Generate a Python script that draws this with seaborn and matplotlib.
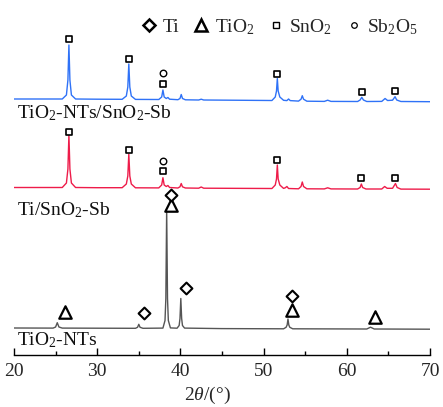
import matplotlib
matplotlib.use("Agg")
import matplotlib.pyplot as plt
from matplotlib.lines import Line2D
from matplotlib.ticker import MultipleLocator
import pandas as pd
import seaborn as sns

# ---- diffraction patterns (2θ in degrees, intensity in a.u. above each baseline) ----
ntsb_2theta = [20.0, 23.0, 25.8, 26.3, 26.48, 26.6, 26.72, 26.9, 27.4, 30.0,
               33.0, 33.5, 33.68, 33.8, 33.92, 34.1, 34.6, 37.4, 37.75, 37.9,
               38.05, 38.3, 38.5, 38.7, 39.7, 39.95, 40.1, 40.25, 40.6, 42.2,
               42.5, 42.8, 51.0, 51.4, 51.55, 51.65, 51.75, 51.95, 52.4, 52.8,
               53.0, 53.2, 54.2, 54.5, 54.65, 54.8, 55.2, 57.3, 57.7, 58.1,
               61.3, 61.6, 61.8, 62.0, 62.4, 64.2, 64.6, 64.9, 65.5, 65.8,
               66.0, 66.5, 70.0]
ntsb_counts = [1.0, 1.0, 1.0, 5, 20, 55, 20, 5, 1.0, 0.8,
               0.7, 4, 13, 36, 13, 4, 0.6, 0.5, 3, 10,
               3, 1.5, 2.5, 0.8, 0.3, 1.5, 5.5, 1.5, 0.2, 0.0,
               0.8, 0.0, -0.5, 3, 9, 21.5, 9, 3, -0.3, -0.6,
               1.0, -0.6, -1.1, 0.8, 4.3, 0.8, -1.2, -1.4, -0.2, -1.4,
               -1.5, 0.0, 2.7, 0.0, -1.5, -1.4, 1.5, -0.5, -0.2, 3.3,
               0.0, -1.5, -1.7]

tisb_2theta = [20.0, 25.8, 26.3, 26.48, 26.6, 26.72, 26.9, 27.4, 30.0, 33.0,
               33.5, 33.68, 33.8, 33.92, 34.1, 34.6, 37.4, 37.75, 37.9, 38.05,
               38.3, 38.5, 38.7, 39.7, 39.95, 40.1, 40.25, 40.6, 42.2, 42.5,
               42.8, 51.0, 51.4, 51.55, 51.65, 51.75, 51.95, 52.4, 52.6, 52.8,
               53.0, 54.2, 54.5, 54.65, 54.8, 55.2, 57.3, 57.7, 58.1, 61.3,
               61.6, 61.75, 61.9, 62.3, 64.2, 64.55, 64.85, 65.5, 65.85, 66.05,
               66.5, 70.0]
tisb_counts = [0.5, 0.5, 5, 19, 53, 19, 5, 0.5, 0.3, 0.3,
               4, 12, 34, 12, 4, 0.2, 0.1, 3, 10.3, 3,
               1.5, 2.5, 0.5, 0.0, 1.2, 4.5, 1.2, 0.0, -0.2, 1.0,
               -0.2, -0.5, 3, 9, 23, 9, 3, -0.4, 0.2, 1.5,
               -0.5, -0.8, 1.5, 6, 1.5, -0.8, -0.9, 0.2, -0.9, -1.0,
               0.5, 4, 0.5, -1.0, -1.0, 1.5, -0.3, -0.3, 4.5, 0.5,
               -1.1, -1.2]

nts_2theta = [20.0, 24.7, 25.0, 25.2, 25.4, 25.8, 30.0, 34.6, 34.85, 35.0,
              35.15, 35.5, 37.9, 38.15, 38.25, 38.35, 38.45, 38.55, 38.8, 39.6,
              39.85, 39.95, 40.05, 40.15, 40.25, 40.5, 45.0, 52.4, 52.7, 52.83,
              52.93, 53.03, 53.15, 53.5, 62.4, 62.85, 63.3, 70.0]
nts_counts = [0.5, 0.4, 1.5, 5.8, 1.5, 0.4, 0.3, 0.2, 1.2, 4.2,
              1.2, 0.2, 0.4, 8, 30, 119.5, 30, 8, 0.6, 0.3,
              3, 10, 30, 10, 3, 0.4, -0.1, -0.3, 1.2, 3.5,
              9.5, 3.5, 1.2, -0.3, -0.5, 1.3, -0.5, -0.7]

# ---- phase assignments (2θ, label height above baseline) ----
ntsb_sno2_x = [26.6, 33.8, 37.9, 51.65, 61.8, 65.85]
ntsb_sno2_y = [61, 41, 16, 25.7, 8.3, 9.3]
ntsb_sb2o5_x = [37.9]
ntsb_sb2o5_y = [27.3]

tisb_sno2_x = [26.6, 33.8, 37.9, 51.6, 61.75, 65.85]
tisb_sno2_y = [56.3, 38, 17, 28, 9.7, 10.3]
tisb_sb2o5_x = [37.9]
tisb_sb2o5_y = [27]

nts_tio2_x = [26.1, 38.9, 53.45, 63.4]
nts_tio2_y = [16.8, 123.5, 18.5, 11.8]
nts_ti_x = [35.6, 38.9, 40.65, 53.45]
nts_ti_y = [15.2, 133.5, 40.5, 32.5]

sample_names = ["TiO$_2$-NTs/SnO$_2$-Sb", "Ti/SnO$_2$-Sb", "TiO$_2$-NTs"]
phase_names = ["Ti", "TiO$_2$", "SnO$_2$", "Sb$_2$O$_5$"]
x_ticks = [20, 30, 40, 50, 60, 70]

# ---- styling ----
sns.set_theme(style="white")
plt.rcParams["font.family"] = ["Liberation Serif", "DejaVu Serif"]
plt.rcParams["mathtext.fontset"] = "custom"
plt.rcParams["mathtext.rm"] = "Liberation Serif"
plt.rcParams["mathtext.it"] = "Liberation Serif:italic"
plt.rcParams["mathtext.bf"] = "Liberation Serif:bold"

FS = 14
offsets = [255, 167, 26.5]
colors = ["#2f72f7", "#ee1c4a", "#555555"]
phase_style = {
    "Ti": dict(marker="D", s=36, lw=1.5),
    "TiO2": dict(marker="^", s=80, lw=1.6),
    "SnO2": dict(marker="s", s=22, lw=1.2),
    "Sb2O5": dict(marker="o", s=22, lw=1.0),
}

fig = plt.figure(figsize=(4.43, 4.07), dpi=100)
ax = fig.add_axes([14 / 443, 52 / 407, 416 / 443, 355 / 407])

patterns = [(ntsb_2theta, ntsb_counts), (tisb_2theta, tisb_counts),
            (nts_2theta, nts_counts)]
for (tt, cc), off, col in zip(patterns, offsets, colors):
    df = pd.DataFrame({"two_theta": tt, "intensity": [c + off for c in cc]})
    sns.lineplot(data=df, x="two_theta", y="intensity", ax=ax, color=col,
                 lw=1.0, estimator=None, sort=False, zorder=2)

marks = [
    ("SnO2", ntsb_sno2_x, ntsb_sno2_y, offsets[0]),
    ("Sb2O5", ntsb_sb2o5_x, ntsb_sb2o5_y, offsets[0]),
    ("SnO2", tisb_sno2_x, tisb_sno2_y, offsets[1]),
    ("Sb2O5", tisb_sb2o5_x, tisb_sb2o5_y, offsets[1]),
    ("TiO2", nts_tio2_x, nts_tio2_y, offsets[2]),
    ("Ti", nts_ti_x, nts_ti_y, offsets[2]),
]
for phase, xs, ys, off in marks:
    st = phase_style[phase]
    sns.scatterplot(x=xs, y=[v + off for v in ys], ax=ax, marker=st["marker"],
                    s=st["s"], facecolor="white", edgecolor="black",
                    linewidth=st["lw"], zorder=3, legend=False)

label_y = [113, 210, 340]
for name, py in zip(sample_names, label_y):
    ax.text(20.35, 355 - py, name, fontsize=FS, ha="left", va="center",
            color="#111111")

ax.set_xlim(20, 70)
ax.set_ylim(0, 355)
ax.set_xticks(x_ticks)
ax.xaxis.set_minor_locator(MultipleLocator(5))
ax.set_yticks([])
ax.set_ylabel("")
ax.tick_params(axis="x", which="major", direction="in", length=5, width=1,
               labelsize=FS, pad=6, color="black", bottom=True)
ax.tick_params(axis="x", which="minor", direction="in", length=3, width=1,
               color="black", bottom=True)
for side in ["left", "right", "top"]:
    ax.spines[side].set_visible(False)
ax.spines["bottom"].set_color("black")
ax.spines["bottom"].set_linewidth(1)
ax.set_xlabel("2$\\it{\\theta}$/(°)", fontsize=FS)
ax.xaxis.set_label_coords(0.464, -0.085)

handles = [
    Line2D([], [], ls="", marker="D", ms=6.5, mfc="white", mec="black", mew=1.8),
    Line2D([], [], ls="", marker="^", ms=8, mfc="white", mec="black", mew=1.8),
    Line2D([], [], ls="", marker="s", ms=4, mfc="white", mec="black", mew=1.0),
    Line2D([], [], ls="", marker="o", ms=4, mfc="white", mec="black", mew=0.9),
]
ax.legend(handles, phase_names, ncol=4, frameon=False, fontsize=FS,
          loc="center", bbox_to_anchor=(0.64, 0.924), handlelength=0.7,
          handletextpad=0.35, columnspacing=0.75, borderpad=0)

fig.savefig("out.png", dpi=100)
